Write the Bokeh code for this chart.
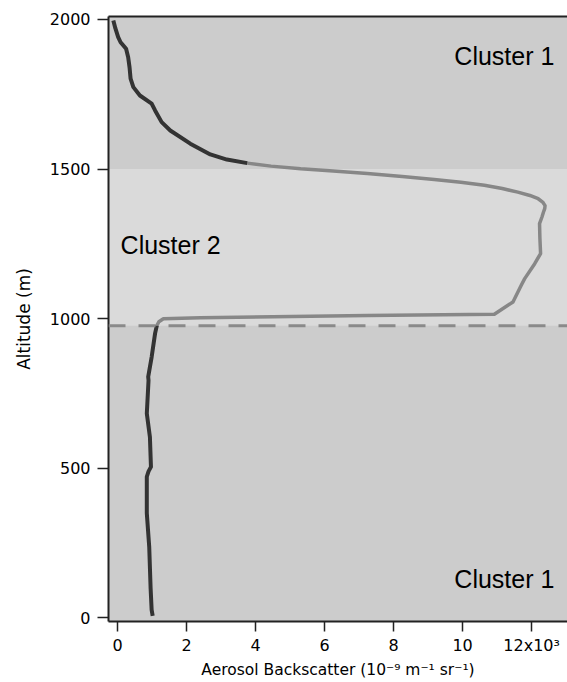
from bokeh.plotting import figure
from bokeh.models import FixedTicker, LinearAxis, BoxAnnotation, Span
from bokeh.core.properties import value
from bokeh.embed import file_html
from bokeh.resources import INLINE

# Backscatter profile, split into the three cluster segments
upper_alt = [1997, 1970, 1941, 1924, 1902, 1874, 1840, 1802, 1774, 1746, 1719, 1696,
             1657, 1629, 1585, 1549, 1532, 1520]
upper_bsc = [-0.12, -0.06, 0.02, 0.09, 0.25, 0.31, 0.35, 0.38, 0.46, 0.65, 0.99, 1.09,
             1.28, 1.53, 2.11, 2.69, 3.17, 3.76]

mid_alt = [1520, 1510, 1501, 1494, 1485, 1475, 1465, 1456, 1446, 1435, 1423, 1412, 1401,
           1390, 1378, 1368, 1355, 1340, 1318, 1270, 1218, 1184, 1134, 1112, 1056, 1015,
           1011, 1003, 1000, 990, 977]
mid_bsc = [3.76, 4.45, 5.31, 6.25, 7.24, 8.25, 9.18, 9.95, 10.63, 11.15, 11.60, 11.95, 12.19,
           12.32, 12.39, 12.38, 12.34, 12.30, 12.23, 12.24, 12.26, 12.09, 11.80, 11.70, 11.46,
           10.92, 7.24, 2.40, 1.33, 1.20, 1.14]

lower_alt = [977, 951, 872, 806, 794, 683, 605, 505, 490, 472, 350, 238, 100, 27, 7]
lower_bsc = [1.14, 1.09, 0.99, 0.89, 0.90, 0.85, 0.94, 0.97, 0.90, 0.85, 0.85, 0.92,
             0.96, 0.99, 1.02]

# Cluster boundaries (m)
cluster2_bounds = [977, 1500]

x_ticks = [0, 2, 4, 6, 8, 10, 12]
y_ticks = [0, 500, 1000, 1500, 2000]
x_tick_labels = {12: "12x10\u00b3"}

cluster_names = ["Cluster 1", "Cluster 2", "Cluster 1"]

p = figure(width=567, height=682, x_range=(-0.26, 13.04), y_range=(-11.7, 2010),
           output_backend="svg", toolbar_location=None,
           min_border_left=108, min_border_right=0, min_border_top=16, min_border_bottom=61)
p.background_fill_color = "#cccccc"
p.border_fill_color = "white"
p.outline_line_color = None
p.grid.visible = False

p.add_layout(BoxAnnotation(bottom=cluster2_bounds[0], top=cluster2_bounds[1],
                           fill_color="#dadada", fill_alpha=1, line_color=None,
                           level="underlay"))

p.line(mid_bsc, mid_alt, line_color="#878787", line_width=3.5, line_join="round")
p.line(upper_bsc, upper_alt, line_color="#333333", line_width=4, line_join="round")
p.line(lower_bsc, lower_alt, line_color="#333333", line_width=4, line_join="round")

p.add_layout(Span(location=cluster2_bounds[0], dimension="width", line_color="#8a8a8a",
                  line_width=3, line_dash="17 13"))

label_font = value("Liberation Sans")
label_size = "25px"
p.text(x=[12.66], y=[1879], text=[cluster_names[0]], text_align="right",
       text_baseline="alphabetic", text_font=label_font, text_font_size=label_size,
       text_color="black")
p.text(x=[0.09], y=[1248], text=[cluster_names[1]], text_align="left",
       text_baseline="alphabetic", text_font=label_font, text_font_size=label_size,
       text_color="black")
p.text(x=[12.66], y=[131], text=[cluster_names[2]], text_align="right",
       text_baseline="alphabetic", text_font=label_font, text_font_size=label_size,
       text_color="black")

tick_font = "DejaVu Sans"
for ax in (p.xaxis[0], p.yaxis[0]):
    ax.axis_line_width = 2
    ax.axis_line_color = "#222222"
    ax.major_tick_in = 0
    ax.major_tick_line_width = 1.5
    ax.major_tick_line_color = "#222222"
    ax.minor_tick_line_color = None
    ax.major_label_text_font = tick_font
    ax.major_label_text_font_size = "16px"
    ax.major_label_text_color = "black"
    ax.axis_label_text_font = tick_font
    ax.axis_label_text_font_style = "normal"
    ax.axis_label_text_color = "black"

p.xaxis.ticker = FixedTicker(ticks=x_ticks)
p.xaxis.major_label_overrides = x_tick_labels
p.xaxis.major_tick_out = 10
p.xaxis.major_label_standoff = 4
p.xaxis.axis_label = "Aerosol Backscatter (10\u207b\u2079 m\u207b\u00b9 sr\u207b\u00b9)"
p.xaxis.axis_label_text_font_size = "15.5px"
p.xaxis.axis_label_standoff = 3

p.yaxis.ticker = FixedTicker(ticks=y_ticks)
p.yaxis.major_tick_out = 11
p.yaxis.major_label_standoff = 7
p.yaxis.axis_label = "Altitude (m)"
p.yaxis.axis_label_text_font_size = "17px"
p.yaxis.axis_label_standoff = 13

# top edge of the frame
top = LinearAxis(ticker=FixedTicker(ticks=[]), axis_line_width=2, axis_line_color="#222222",
                 major_tick_line_color=None, minor_tick_line_color=None,
                 major_label_text_font_size="0px")
p.add_layout(top, "above")

open("out.html", "w").write(file_html(p, INLINE))
